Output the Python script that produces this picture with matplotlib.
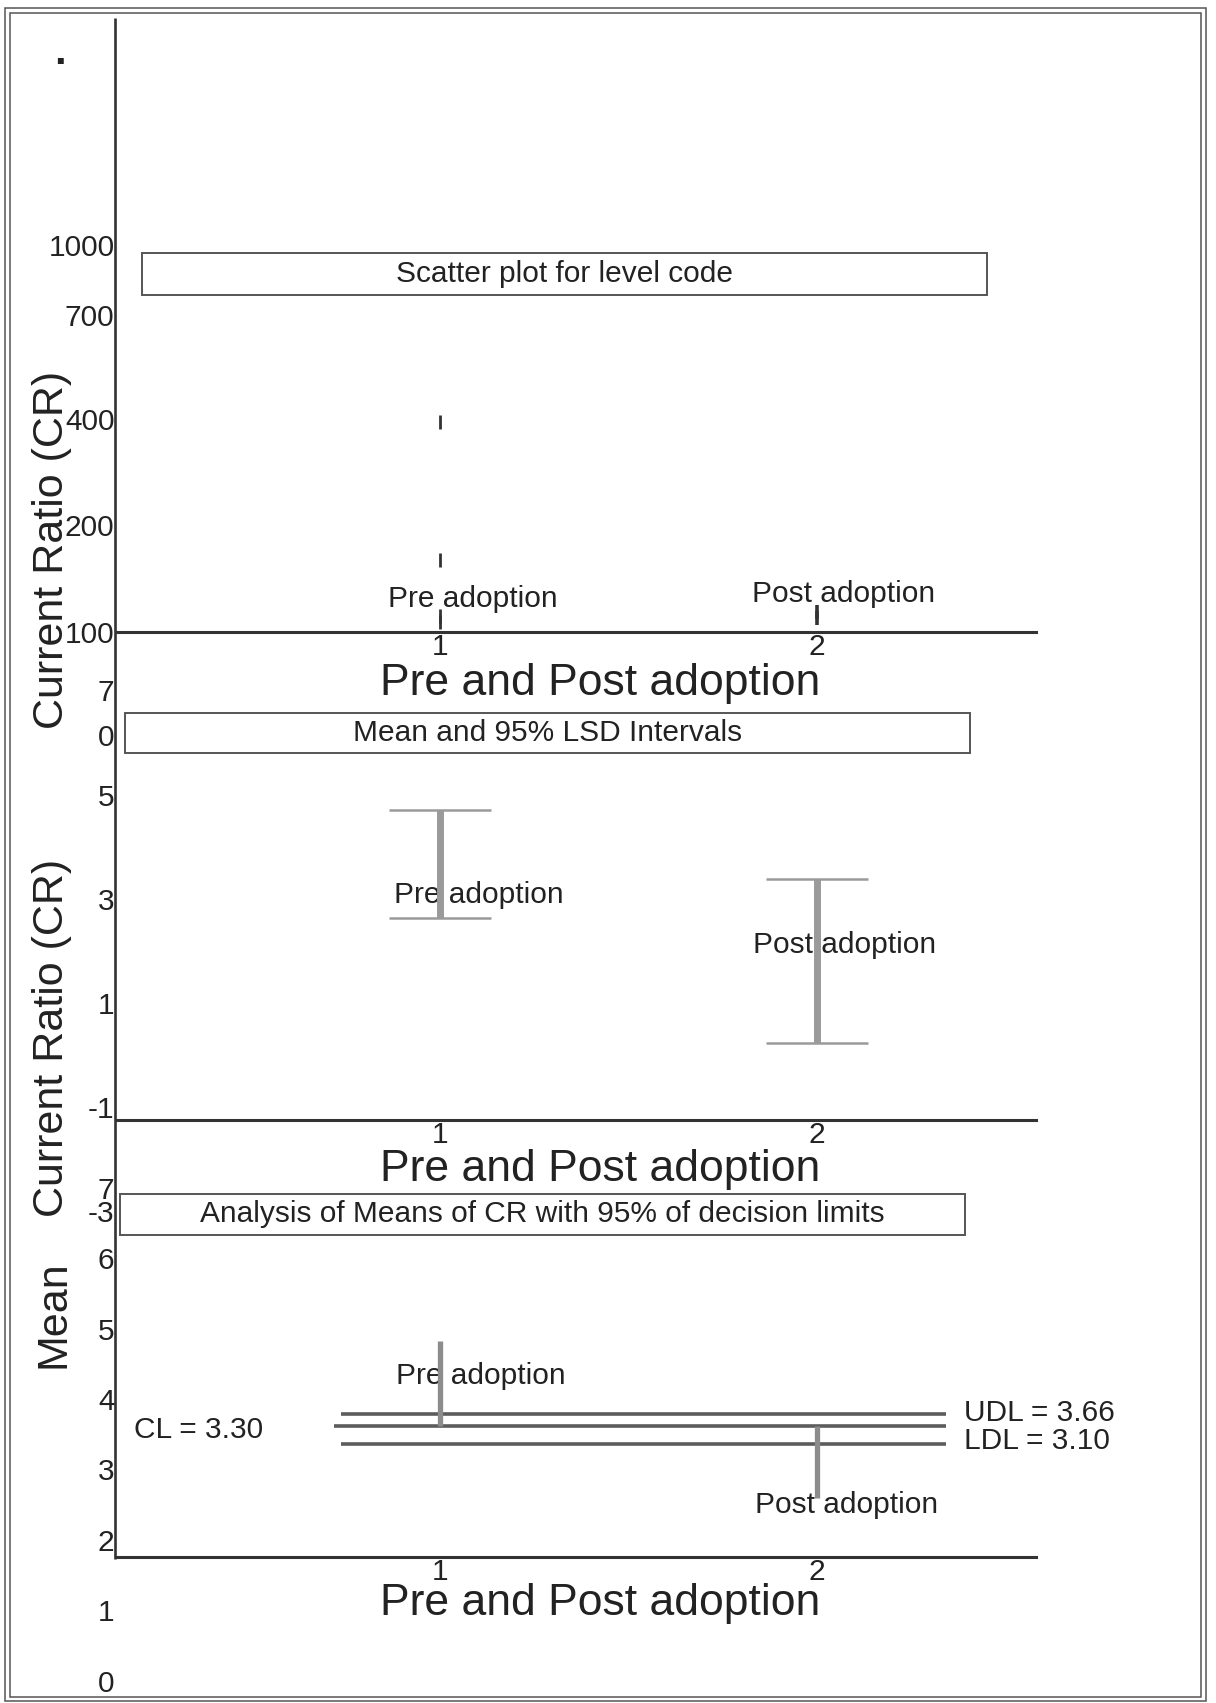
#!/usr/bin/env python3
# -*- coding: utf-8 -*-
"""
Scatter plot / LSD intervals / ANOM of current ratio, pre vs post adoption
"""

### package ###
import numpy as np
import matplotlib
matplotlib.use('Agg')
import matplotlib.pyplot as plt
from matplotlib.patches import Rectangle
#====================

### data ###
group_codes = [1, 2]
group_names = ['Pre adoption', 'Post adoption']
code_labels = ['1', '2']

# scatter plot for level code (CR values)
pre_cr = [395, 167, 109, 115]
post_cr = [113, 119]
scatter_ticks = [100, 200, 400, 700, 1000]
scatter_tick_labels = ['100', '200', '400', '700', '1000']

# mean and 95% LSD intervals
lsd_low = [2.64, 0.23]
lsd_high = [4.70, 3.38]
lsd_ticks = [7, 6.15, 5, 3, 1, -1, -3]
lsd_tick_labels = ['7', '0', '5', '3', '1', '-1', '-3']

# analysis of means with 95% decision limits
anom_means = [4.83, 2.59]
anom_cl = 3.62
anom_udl = 3.79
anom_ldl = 3.36
anom_ticks = [0, 1, 2, 3, 4, 5, 6, 7]
cl_text = 'CL = 3.30'
udl_text = 'UDL = 3.66'
ldl_text = 'LDL = 3.10'
#====================

### layout (pixels of the 1216x1703 page) ###
W, H = 1216, 1703
AX_L, AX_R = 116, 1036
XLIM = (0.1406, 2.581)
INK = '#222222'
SMALL = 21.5
BIG = 32
plt.rcParams['font.family'] = ['Liberation Sans', 'DejaVu Sans']
#====================

### function ###
def FigBox(x0, y0, x1, y1):
    return [x0 / W, 1 - y1 / H, (x1 - x0) / W, (y1 - y0) / H]

def LinearPanel(y_top, y_bot, ref_val, ref_pix, px_per_unit):
    # value shown at a given pixel row of the page
    val = lambda y: ref_val - (y - ref_pix) / px_per_unit
    ax = fig.add_axes(FigBox(AX_L, y_top, AX_R, y_bot), zorder=2)
    ax.set_ylim(val(y_bot), val(y_top))
    return ax, val

def StylePanel(ax):
    ax.patch.set_visible(False)
    for s in ['left', 'right', 'top']:
        ax.spines[s].set_visible(False)
    ax.spines['bottom'].set_linewidth(2.2)
    ax.spines['bottom'].set_color('#333333')
    ax.set_xlim(XLIM)
    ax.set_xticks(group_codes)
    ax.set_xticklabels(code_labels)
    ax.tick_params(length=0, pad=1, labelsize=SMALL, colors=INK)
    ax.minorticks_off()

def TitleBox(x0, y0, x1, y1, text):
    page.add_patch(Rectangle((x0, y0), x1 - x0, y1 - y0, fill=False,
                             edgecolor='#555555', linewidth=1.4))
    page.text((x0 + x1) / 2, (y0 + y1) / 2, text, fontsize=SMALL, color=INK,
              ha='center', va='center')
#====================

### main code ###
fig = plt.figure(figsize=(W / 100, H / 100), dpi=100)

page = fig.add_axes([0, 0, 1, 1], zorder=0)
page.set_xlim(0, W)
page.set_ylim(H, 0)
page.axis('off')

# double frame of the page
page.add_patch(Rectangle((5, 8), 1201, 1693, fill=False, edgecolor='#555555', linewidth=1.1))
page.add_patch(Rectangle((9.5, 13), 1191, 1684, fill=False, edgecolor='#555555', linewidth=1.1))

# long vertical axis line shared by the three panels
page.plot([115, 115], [17.5, 1559], color='#333333', linewidth=1.9, solid_capstyle='butt')
page.text(60, 64, '.', fontsize=30, fontweight='bold', color=INK, ha='center', va='baseline')

# --- panel 1 : scatter plot for level code ---
scale_rows = np.array([632, 525, 419, 315, 245], dtype=float)
fwd = lambda v: np.interp(v, scatter_ticks, -scale_rows)
inv = lambda p: np.interp(p, -scale_rows, scatter_ticks)
ax1 = fig.add_axes(FigBox(AX_L, 245, AX_R, 632), zorder=2)
ax1.set_yscale('function', functions=(fwd, inv))
ax1.set_ylim(100, 1000)
StylePanel(ax1)
ax1.set_yticks(scatter_ticks)
ax1.set_yticklabels(scatter_tick_labels)
ax1.scatter([group_codes[0]] * len(pre_cr), pre_cr, marker='|', s=110,
            color='#333333', linewidths=2)
ax1.scatter([group_codes[1]] * len(post_cr), post_cr, marker='|', s=110,
            color='#333333', linewidths=2.6)

TitleBox(141.5, 253, 987, 295, 'Scatter plot for level code')
page.text(388, 599, group_names[0], fontsize=SMALL, color=INK, ha='left', va='center')
page.text(751.5, 594, group_names[1], fontsize=SMALL, color=INK, ha='left', va='center')
page.text(600.5, 684, 'Pre and Post adoption', fontsize=BIG, color=INK, ha='center', va='center')
page.text(52, 550, 'Current Ratio (CR)', fontsize=31, color=INK, rotation=90,
          ha='center', va='center')

# --- panel 2 : mean and 95% LSD intervals ---
ax2, val2 = LinearPanel(680, 1222, 5, 794.6, 52.1)
StylePanel(ax2)
ax2.spines['bottom'].set_position(('data', val2(1120)))
ax2.set_yticks(lsd_ticks)
ax2.set_yticklabels(lsd_tick_labels)
lsd_mid = (np.array(lsd_low) + np.array(lsd_high)) / 2
ax2.errorbar(group_codes, lsd_mid,
             yerr=[lsd_mid - np.array(lsd_low), np.array(lsd_high) - lsd_mid],
             fmt='none', ecolor='#9a9a9a', elinewidth=5, capsize=37, capthick=1.8)

TitleBox(125, 713, 970, 753, 'Mean and 95% LSD Intervals')
page.text(393.6, 895, group_names[0], fontsize=SMALL, color=INK, ha='left', va='center')
page.text(752.6, 945, group_names[1], fontsize=SMALL, color=INK, ha='left', va='center')
page.text(600.5, 1169, 'Pre and Post adoption', fontsize=BIG, color=INK, ha='center', va='center')
page.text(52, 1038, 'Current Ratio (CR)', fontsize=31, color=INK, rotation=90,
          ha='center', va='center')

# --- panel 3 : analysis of means ---
ax3, val3 = LinearPanel(1180, 1692, 7, 1188, 70.36)
StylePanel(ax3)
ax3.spines['bottom'].set_position(('data', val3(1557)))
ax3.set_yticks(anom_ticks)
ax3.set_yticklabels([str(t) for t in anom_ticks])
ax3.hlines([anom_udl, anom_ldl], 0.737, 2.342, color='#5c5c5c', linewidth=2.6)
ax3.hlines(anom_cl, 0.718, 2.342, color='#5c5c5c', linewidth=2.6)
ax3.vlines(group_codes, anom_cl, anom_means, color='#8c8c8c', linewidth=3.8)

TitleBox(120, 1194, 965, 1235, 'Analysis of Means of CR with 95% of decision limits')
page.text(395.5, 1376, group_names[0], fontsize=SMALL, color=INK, ha='left', va='center')
page.text(755, 1505, group_names[1], fontsize=SMALL, color=INK, ha='left', va='center')
page.text(134, 1430, cl_text, fontsize=SMALL, color=INK, ha='left', va='center')
page.text(964, 1413, udl_text, fontsize=SMALL, color=INK, ha='left', va='center')
page.text(964, 1441, ldl_text, fontsize=SMALL, color=INK, ha='left', va='center')
page.text(600.5, 1603, 'Pre and Post adoption', fontsize=BIG, color=INK, ha='center', va='center')
page.text(54, 1314, 'Mean', fontsize=31, color=INK, rotation=90, ha='center', va='center')

fig.savefig('out.png', dpi=100)
#====================
